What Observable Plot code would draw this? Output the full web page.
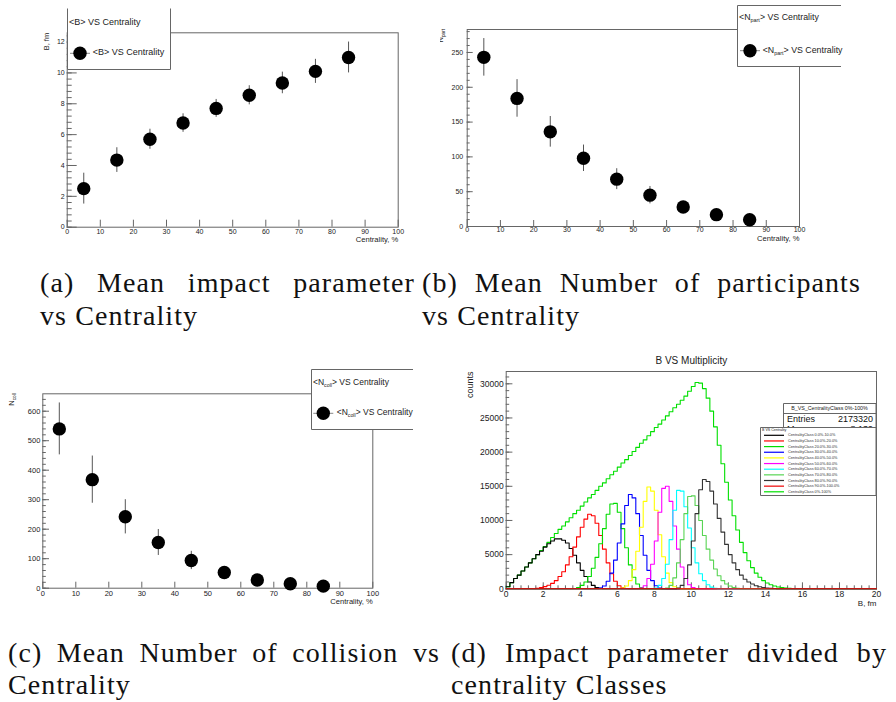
<!DOCTYPE html>
<html><head><meta charset="utf-8">
<script src="https://cdn.jsdelivr.net/npm/d3@7"></script>
<script src="https://cdn.jsdelivr.net/npm/@observablehq/plot@0.6"></script>
<style>
body{margin:0;background:#fff;}
#page{position:relative;width:896px;height:702px;overflow:hidden;background:#fff;}
.panel{position:absolute;}
.cap{position:absolute;font-family:"Liberation Serif","Times New Roman",serif;font-size:28px;line-height:28px;letter-spacing:1.1px;color:#111;}
.just{text-align:justify;text-align-last:justify;}
</style></head><body><div id="page"></div>
<script>
// ---------------- DATA ----------------
const centrality = [5, 15, 25, 35, 45, 55, 65, 75, 85];
const meanB = [2.5, 4.35, 5.7, 6.75, 7.7, 8.55, 9.35, 10.1, 11.0];
const meanBErr = [1.0, 0.8, 0.65, 0.6, 0.58, 0.62, 0.7, 0.78, 1.0];
const meanNpart = [243, 184, 136, 98, 68, 45, 28, 17, 9.6];
const meanNpartErr = [27, 27, 22, 19, 15, 12.5, 7, 5, 3];
const meanNcoll = [540, 368, 242, 155, 94, 53, 28, 15, 7];
const meanNcollErr = [88, 80, 58, 44, 31, 15, 9, 5, 3];

// impact-parameter histograms (bin width 0.2 fm, first listed bin's left edge given)
const classLabels = ["CentralityClass 0.0%-10.0%", "CentralityClass 10.0%-20.0%", "CentralityClass 20.0%-30.0%",
  "CentralityClass 30.0%-40.0%", "CentralityClass 40.0%-50.0%", "CentralityClass 50.0%-60.0%",
  "CentralityClass 60.0%-70.0%", "CentralityClass 70.0%-80.0%", "CentralityClass 80.0%-90.0%",
  "CentralityClass 90.0%-100.0%", "CentralityClass 0%-100%"];
const classColors = ["#000000", "#ff0000", "#00dd00", "#0000ff", "#ffff00", "#ff00ff", "#00ffff", "#59d454", "#333333", "#ee0000", "#00e000"];
const classStarts = [0, 1.4, 3.6, 5.0, 6.2, 7.2, 8.0, 8.6, 9.2, 0, 0];
const class0_10 = [300, 900, 1500, 2000, 2600, 3200, 3800, 4400, 5000, 5500, 6100, 6600, 7000, 7300, 7300, 7100, 6700, 5900, 4900, 3800, 2700, 1800, 1000, 500, 200, 60];
const class10_20 = [30, 80, 180, 320, 520, 800, 1200, 1800, 2500, 3500, 4700, 6100, 7600, 9000, 10200, 10900, 10700, 9600, 7800, 5800, 3800, 2200, 1100, 450, 150, 40];
const class20_30 = [50, 200, 500, 1000, 1800, 3000, 4600, 6600, 8800, 10900, 12400, 12500, 11200, 8800, 6000, 3500, 1700, 700, 200, 50];
const class30_40 = [100, 400, 1100, 2300, 4200, 6700, 9500, 12200, 13800, 13300, 11000, 7800, 4900, 2700, 1200, 450, 120];
const class40_50 = [100, 400, 1200, 2800, 5500, 9000, 12800, 14900, 14300, 11500, 7900, 4700, 2300, 900, 300, 80];
const class50_60 = [100, 450, 1500, 3600, 7000, 11200, 14700, 15000, 12800, 9200, 5800, 3200, 1500, 600, 200, 50];
const class60_70 = [100, 500, 1500, 3600, 7200, 11500, 14400, 14300, 12000, 8900, 6000, 3800, 2200, 1200, 600, 250, 80];
const class70_80 = [100, 500, 1600, 3800, 7200, 11000, 13500, 13600, 12200, 10000, 7800, 5800, 4200, 2900, 1900, 1200, 700, 400, 200, 80];
const class80_90 = [100, 500, 1500, 3500, 7000, 11000, 14500, 16000, 15700, 14300, 12400, 10300, 8300, 6500, 5000, 3800, 2800, 2000, 1400, 1000, 700, 450, 300, 200, 120, 70, 40];
const class90_100 = [];
const class0_100 = [300, 900, 1500, 2000, 2600, 3200, 3800, 4400, 5000, 5600, 6200, 6800, 7500, 8100, 8700, 9200, 9800, 10400, 11000, 11500,
  12100, 12700, 13300, 13800, 14400, 15000, 15500, 16100, 16700, 17200, 17800, 18400, 18900, 19500, 20100, 20700, 21300, 21800, 22400, 23000,
  23600, 24100, 24700, 25300, 25900, 26500, 27000, 27600, 28200, 28900, 29600, 30200, 30100, 29300, 27900, 26000, 23700, 21000, 18300, 15600,
  13000, 10700, 8600, 6800, 5300, 4100, 3100, 2300, 1700, 1200, 850, 600, 400, 270, 170, 100, 60, 30, 15, 5];
const classValues = [class0_10, class10_20, class20_30, class30_40, class40_50, class50_60, class60_70, class70_80, class80_90, class90_100, class0_100];
const statsTitle = "B_VS_CentralityClass 0%-100%";
const statsEntries = "2173320";
const statsMean = "8.139";

// ---------------- HELPERS ----------------
const page = document.getElementById("page");
const SANS = "'Liberation Sans', Arial, Helvetica, sans-serif";
const AX = "#666";

function place(svg, left, top) {
  const d = document.createElement("div");
  d.className = "panel"; d.style.left = left + "px"; d.style.top = top + "px";
  d.appendChild(svg); page.appendChild(d);
}
function rows(xs, ys, es) { return xs.map((x, i) => ({x, y: ys[i], e: es[i]})); }

function rootTicks({fw, fh, yMajor, yMinor, xMajor, xMinor = [], yMaj, yMin, xMaj, xMin = 3}) {
  return [
    Plot.tickY(yMajor, {insetRight: fw - yMaj, stroke: AX}),
    Plot.tickY(yMinor, {insetRight: fw - yMin, stroke: AX}),
    Plot.tickX(xMajor, {insetTop: fh - xMaj, stroke: AX}),
    Plot.tickX(xMinor, {insetTop: fh - xMin, stroke: AX})
  ];
}

function scatterPanel({data, W, H, ml, mr, mt, mb, ymax, yMajor, yMinor, yMaj, yMin, xMaj, fs, ypad, xpad, ytitle, xtitleDy, ytitleDx}) {
  const fw = W - ml - mr, fh = H - mt - mb;
  const marks = [
    Plot.frame({stroke: AX}),
    ...rootTicks({fw, fh, yMajor, yMinor, xMajor: d3.range(0, 101, 10), yMaj, yMin, xMaj}),
    Plot.axisY(yMajor, {tickSize: 0, tickPadding: ypad, fontSize: fs, fill: "#222", tickFormat: d => d}),
    Plot.axisX(d3.range(0, 101, 10), {tickSize: 0, tickPadding: xpad, fontSize: fs, fill: "#222", tickFormat: d => d}),
    Plot.ruleX(data, {x: "x", y1: d => d.y - d.e, y2: d => d.y + d.e, stroke: "#555", strokeWidth: 1}),
    Plot.dot(data, {x: "x", y: "y", r: 6.7, fill: "#000", stroke: "none"}),
    Plot.text(["Centrality, %"], {frameAnchor: "bottom-right", textAnchor: "end", dy: xtitleDy, fontSize: 7.6, fill: "#222"})
  ];
  if (ytitle) marks.push(Plot.text([ytitle], {frameAnchor: "top-left", rotate: -90, textAnchor: "end", dx: ytitleDx, fontSize: 7.5, fill: "#222"}));
  return Plot.plot({
    width: W, height: H, marginLeft: ml, marginRight: mr, marginTop: mt, marginBottom: mb,
    x: {domain: [0, 100], label: null}, y: {domain: [0, ymax], label: null},
    style: {fontFamily: SANS, background: "transparent", overflow: "visible"},
    marks
  });
}

// ---------------- PANEL (a) ----------------
place(scatterPanel({data: rows(centrality, meanB, meanBErr), W: 420, H: 250, ml: 66.7, mr: 22.3, mt: 32.3, mb: 23.3,
  ymax: 12.6, yMajor: d3.range(0, 12.01, 2), yMinor: d3.range(0, 12.61, 0.4), yMaj: 10, yMin: 5, xMaj: 7,
  fs: 7, ypad: 2.5, xpad: 1.5, ytitle: "B, fm", xtitleDy: 14.5, ytitleDx: -23.7}), 0, 0);

// ---------------- PANEL (b) ----------------
place(scatterPanel({data: rows(centrality, meanNpart, meanNpartErr), W: 401, H: 250, ml: 26.7, mr: 42, mt: 29, mb: 24,
  ymax: 283, yMajor: d3.range(0, 251, 50), yMinor: d3.range(0, 281, 10), yMaj: 6, yMin: 3, xMaj: 6,
  fs: 7, ypad: 4, xpad: 0.5, ytitle: null, xtitleDy: 14}), 440, 0);

// ---------------- PANEL (c) ----------------
place(scatterPanel({data: rows(centrality, meanNcoll, meanNcollErr), W: 413, H: 255, ml: 42.3, mr: 40.7, mt: 38.3, mb: 22.3,
  ymax: 659, yMajor: d3.range(0, 601, 100), yMinor: d3.range(0, 651, 20), yMaj: 6.7, yMin: 3.5, xMaj: 6,
  fs: 7.5, ypad: 2.5, xpad: 2, ytitle: null, xtitleDy: 15.5}), 0, 355);

// ---------------- PANEL (d) ----------------
const B_BIN = 0.2;
function histSeries(start, values) {
  const n = Math.round(20 / B_BIN);
  const arr = new Array(n).fill(0);
  const s = Math.round(start / B_BIN);
  values.forEach((v, i) => { arr[s + i] = v; });
  const pts = arr.map((v, i) => ({b: +(i * B_BIN).toFixed(2), v}));
  pts.push({b: 20, v: arr[n - 1]});
  return pts;
}
{
  const W = 441, H = 270, ml = 50.7, mr = 20, mt = 31, mb = 21.7;
  const fw = W - ml - mr, fh = H - mt - mb;
  const order = [10, 0, 1, 2, 3, 4, 5, 6, 7, 8, 9];
  const histMarks = order.map(k => Plot.line(histSeries(classStarts[k], classValues[k]),
    {x: "b", y: "v", curve: "step-after", stroke: classColors[k], strokeWidth: 1.1}));
  const yMajor = d3.range(0, 30001, 5000);
  const svg = Plot.plot({
    width: W, height: H, marginLeft: ml, marginRight: mr, marginTop: mt, marginBottom: mb,
    x: {domain: [0, 20], label: null}, y: {domain: [0, 31800], label: null},
    style: {fontFamily: SANS, background: "transparent", overflow: "visible"},
    marks: [
      Plot.frame({stroke: AX}),
      ...rootTicks({fw, fh, yMajor, yMinor: d3.range(0, 31001, 1000), xMajor: d3.range(0, 20.01, 2), xMinor: d3.range(0, 20.01, 0.4), yMaj: 6.7, yMin: 3.5, xMaj: 6, xMin: 3}),
      Plot.axisY(yMajor, {tickSize: 0, tickPadding: 2.5, fontSize: 8.5, fill: "#222", tickFormat: d => String(d)}),
      Plot.axisX(d3.range(0, 20.01, 2), {tickSize: 0, tickPadding: 2, fontSize: 8.5, fill: "#222", tickFormat: d => String(d)}),
      ...histMarks,
      Plot.text(["B VS Multiplicity"], {frameAnchor: "top", dy: -15, fontSize: 10, fill: "#222"}),
      Plot.text(["counts"], {frameAnchor: "top-left", rotate: -90, textAnchor: "end", dx: -39.7, fontSize: 9, fill: "#222"}),
      Plot.text(["B, fm"], {frameAnchor: "bottom-right", textAnchor: "end", dy: 17.5, fontSize: 8, fill: "#222"})
    ]
  });
  place(svg, 455, 340);
}

// ---------------- OVERLAY: legends, stats box, subscripted titles ----------------
const ov = d3.select(page).append("svg").attr("width", 896).attr("height", 702)
  .style("position", "absolute").style("left", "0px").style("top", "0px")
  .attr("font-family", SANS);

function rich(textSel, pieces, fs) {
  pieces.forEach(p => {
    if (typeof p === "string") textSel.append("tspan").text(p);
    else textSel.append("tspan").attr("baseline-shift", "sub").attr("font-size", fs * 0.62).text(p.sub);
  });
}
function boxSides(x0, y0, x1, y1, sides) {
  ov.append("rect").attr("x", x0).attr("y", y0).attr("width", x1 - x0).attr("height", y1 - y0).attr("fill", "#fff");
  const s = {top: [x0, y0, x1, y0], bottom: [x0, y1, x1, y1], left: [x0, y0, x0, y1], right: [x1, y0, x1, y1]};
  sides.forEach(k => ov.append("line").attr("x1", s[k][0]).attr("y1", s[k][1]).attr("x2", s[k][2]).attr("y2", s[k][3])
    .attr("stroke", "#666").attr("stroke-width", 1));
}
function scatterLegend({x0, y0, x1, y1, sides, hx, hy, mx, my, tx, pieces, fs}) {
  boxSides(x0, y0, x1, y1, sides);
  rich(ov.append("text").attr("x", hx).attr("y", hy).attr("dominant-baseline", "middle").attr("font-size", fs).attr("fill", "#222"), pieces, fs);
  ov.append("line").attr("x1", mx - 10).attr("x2", mx + 10).attr("y1", my).attr("y2", my).attr("stroke", "#888");
  ov.append("circle").attr("cx", mx).attr("cy", my).attr("r", 6.7).attr("fill", "#000");
  rich(ov.append("text").attr("x", tx).attr("y", my).attr("dominant-baseline", "middle").attr("font-size", fs).attr("fill", "#222"), pieces, fs);
}
scatterLegend({x0: 67.5, y0: 8.5, x1: 170.5, y1: 69.5, sides: ["left", "right", "bottom"], hx: 69, hy: 23.3, mx: 80, my: 53.3, tx: 92.7,
  pieces: ["<B> VS Centrality"], fs: 9});
scatterLegend({x0: 737.5, y0: 5.5, x1: 841, y1: 66.5, sides: ["left", "top", "bottom"], hx: 739, hy: 18.3, mx: 750, my: 50.7, tx: 762.7,
  pieces: ["<N", {sub: "part"}, "> VS Centrality"], fs: 8.8});
scatterLegend({x0: 311.5, y0: 369.5, x1: 413, y1: 429.5, sides: ["left", "top", "bottom"], hx: 313, hy: 382.7, mx: 323.3, my: 413.3, tx: 336.7,
  pieces: ["<N", {sub: "coll"}, "> VS Centrality"], fs: 8.5});

// subscripted axis titles
ov.append("clipPath").attr("id", "clipB").append("rect").attr("x", 440).attr("y", 0).attr("width", 460).attr("height", 260);
rich(ov.append("g").attr("clip-path", "url(#clipB)").append("text").attr("transform", "translate(441,29) rotate(-90)")
  .attr("text-anchor", "end").attr("dominant-baseline", "middle").attr("font-size", 7.5).attr("fill", "#222"), ["N", {sub: "part"}], 7.5);
rich(ov.append("text").attr("transform", "translate(12,393.3) rotate(-90)")
  .attr("text-anchor", "end").attr("dominant-baseline", "middle").attr("font-size", 7.5).attr("fill", "#222"), ["N", {sub: "coll"}], 7.5);

// stats box (d), partly hidden by the legend below it
ov.append("clipPath").attr("id", "clipStats").append("rect").attr("x", 780).attr("y", 400).attr("width", 100).attr("height", 27.5);
boxSides(783.5, 403.5, 876, 434, ["left", "top", "right", "bottom"]);
ov.append("line").attr("x1", 783.5).attr("x2", 876).attr("y1", 413.5).attr("y2", 413.5).attr("stroke", "#666");
ov.append("text").attr("x", 829.5).attr("y", 408.6).attr("text-anchor", "middle").attr("dominant-baseline", "middle").attr("font-size", 5.3).attr("fill", "#222").text(statsTitle);
ov.append("text").attr("x", 787).attr("y", 419.3).attr("dominant-baseline", "middle").attr("font-size", 9).attr("fill", "#111").text("Entries");
ov.append("text").attr("x", 873).attr("y", 419.3).attr("text-anchor", "end").attr("dominant-baseline", "middle").attr("font-size", 9).attr("fill", "#111").text(statsEntries);
const gMean = ov.append("g").attr("clip-path", "url(#clipStats)");
gMean.append("text").attr("x", 787).attr("y", 429.5).attr("dominant-baseline", "middle").attr("font-size", 9).attr("fill", "#111").text("Mean");
gMean.append("text").attr("x", 873).attr("y", 429.5).attr("text-anchor", "end").attr("dominant-baseline", "middle").attr("font-size", 9).attr("fill", "#111").text(statsMean);

// legend (d)
boxSides(760.5, 427.5, 876, 495.5, ["left", "top", "right", "bottom"]);
ov.append("text").attr("x", 762).attr("y", 430.3).attr("dominant-baseline", "middle").attr("font-size", 3.6).attr("fill", "#222").text("B VS Centrality");
classLabels.forEach((lab, i) => {
  const y = 435.3 + i * 5.65;
  ov.append("line").attr("x1", 764).attr("x2", 784).attr("y1", y).attr("y2", y).attr("stroke", classColors[i]).attr("stroke-width", 1.2);
  ov.append("text").attr("x", 788).attr("y", y).attr("dominant-baseline", "middle").attr("font-size", 3.8).attr("fill", "#333").text(lab);
});

// ---------------- CAPTIONS ----------------
const captions = [
  {x: 40, w: 375, b1: 292, b2: 325, l1: "(a) Mean impact parameter", l2: "vs Centrality"},
  {x: 422, w: 439, b1: 292, b2: 325, l1: "(b) Mean Number of participants", l2: "vs Centrality"},
  {x: 8, w: 432, b1: 662, b2: 694, l1: "(c) Mean Number of collision vs", l2: "Centrality"},
  {x: 451, w: 436, b1: 662, b2: 694, l1: "(d) Impact parameter divided by", l2: "centrality Classes"}
];
captions.forEach(c => {
  const a = document.createElement("div");
  a.className = "cap just"; a.style.left = c.x + "px"; a.style.top = (c.b1 - 23.4) + "px"; a.style.width = c.w + "px";
  a.textContent = c.l1; page.appendChild(a);
  const b = document.createElement("div");
  b.className = "cap"; b.style.left = c.x + "px"; b.style.top = (c.b2 - 23.4) + "px"; b.style.whiteSpace = "nowrap";
  b.textContent = c.l2; page.appendChild(b);
});
</script></body></html>
